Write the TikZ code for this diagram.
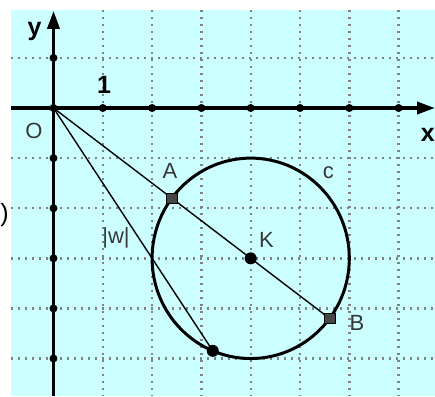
\documentclass[tikz,border=0pt]{standalone}
\usepackage{fontspec}
\setmainfont{Liberation Sans}
\usetikzlibrary{arrows.meta}
\definecolor{bgcyan}{RGB}{204,255,255}
\definecolor{gridgray}{RGB}{130,130,130}
\definecolor{lblgray}{RGB}{55,55,55}
\definecolor{ptgray}{RGB}{70,70,70}
\begin{document}
\begin{tikzpicture}[x=49.3pt,y=50.1pt,
  gridline/.style={gridgray, line width=2.4pt, dash pattern=on 1.8pt off 5.2pt},
  axisline/.style={line width=3.5pt, -{Triangle[length=18pt,width=12pt]}},
  tickdot/.style={circle, fill=black, inner sep=0pt, minimum size=8pt},
  thinline/.style={line width=1.4pt},
  thickline/.style={line width=3pt},
  sqpt/.style={rectangle, fill=ptgray, draw=black, line width=0.6pt, inner sep=0pt, minimum size=10.5pt},
  rdpt/.style={circle, fill=black, inner sep=0pt, minimum size=12pt},
  lbl/.style={text=lblgray, font=\fontsize{22}{25}\selectfont, inner sep=0pt},
  axlbl/.style={text=black, font=\fontsize{25}{28}\selectfont\bfseries, inner sep=0pt}]
\useasboundingbox (-1.085,2.156) rectangle (7.738,-5.749);
% background
\fill[bgcyan] (-0.862,1.956) rectangle (7.738,-5.749);
% grid
\foreach \i in {1,...,7} \draw[gridline] (\i,1.956) -- (\i,-5.749);
\foreach \j in {1,-1,-2,-3,-4,-5} \draw[gridline] (-0.862,\j) -- (7.738,\j);
% axes
\draw[axisline] (-0.862,0) -- (7.738,0);
\draw[axisline] (0,-5.749) -- (0,1.94);
\foreach \i in {0,...,7} \node[tickdot] (tx\i) at (\i,0) {};
\foreach \j/\n in {1/a,-1/b,-2/c,-3/d,-4/e,-5/f} \node[tickdot] (ty\n) at (0,\j) {};
% points
\coordinate (O) at (0,0);
\coordinate (K) at (4,-3);
\coordinate (A) at (2.4,-1.8);
\coordinate (B) at (5.6,-4.2);
\coordinate (D) at (3.2308,-4.8462);
% lines
\draw[thinline] (O) -- (B);
\draw[thinline] (O) -- (D);
\draw[thickline] (K) circle[radius=2];
% point markers
\node[sqpt] (pA) at (A) {};
\node[sqpt] (pB) at (B) {};
\node[rdpt] (pK) at (K) {};
\node[rdpt] (pD) at (D) {};
% labels
\node[axlbl] (ly) at (-0.385,1.52) {y};
\node[axlbl] (lx) at (7.59,-0.54) {x};
\node[axlbl] (l1) at (1.024,0.46) {1};
\node[lbl] (lO) at (-0.396,-0.46) {O};
\node[lbl] (lA) at (2.363,-1.25) {A};
\node[lbl] (lc) at (5.574,-1.30) {c};
\node[lbl] (lK) at (4.32,-2.64) {K};
\node[lbl] (lB) at (6.156,-4.29) {B};
\node[lbl] (lw) at (1.268,-2.60) {|w|};
\node[lbl, text=black, font=\fontsize{25}{28}\selectfont] (lp) at (-0.994,-2.14) {)};
\end{tikzpicture}
\end{document}
